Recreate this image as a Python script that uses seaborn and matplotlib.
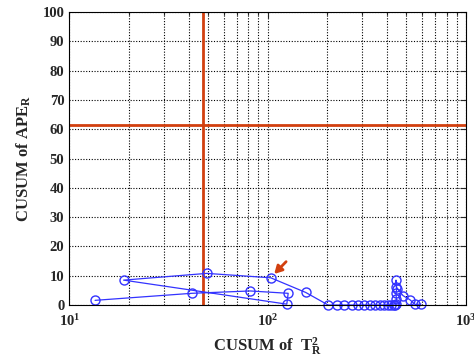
import numpy as np
import pandas as pd
import seaborn as sns
import matplotlib
matplotlib.use("Agg")
import matplotlib.pyplot as plt

# CUSUM trajectory, in time order
cusum_t2 = [13.5, 41.5, 81.7, 127, 125, 18.8, 49.4, 103.7, 155.6,
            202, 223, 244, 266, 287, 307, 328, 348, 369, 386, 403, 419, 432, 440,
            444, 446, 444, 448, 444, 446, 482, 522, 554, 593]
cusum_ape = [1.6, 4.0, 4.8, 4.0, 0.3, 8.5, 10.8, 9.3, 4.3,
             0, 0, 0, 0, 0, 0, 0, 0, 0, 0, 0, 0, 0, 0,
             0.2, 2.0, 4.0, 5.5, 8.5, 6.0, 3.2, 1.8, 0.2, 0.3]
limit_t2 = 47.5
limit_ape = 61.5

df = pd.DataFrame({"t2": cusum_t2, "ape": cusum_ape})

sns.set_style("white")
plt.rcParams["font.family"] = ["Liberation Serif", "DejaVu Serif"]
plt.rcParams["font.weight"] = "bold"
plt.rcParams["mathtext.fontset"] = "custom"
plt.rcParams["mathtext.rm"] = "Liberation Serif:bold"
plt.rcParams["mathtext.it"] = "Liberation Serif:bold"
plt.rcParams["mathtext.bf"] = "Liberation Serif:bold"
plt.rcParams["mathtext.default"] = "bf"

fig = plt.figure(figsize=(4.74, 3.64), dpi=100)
ax = fig.add_axes([0.146, 0.162, 0.837, 0.805])

ax.set_xscale("log")
ax.set_xlim(10, 1000)
ax.set_ylim(0, 100)
ax.set_yticks(np.arange(0, 101, 10))

ax.grid(True, which="both", axis="x", color="black", linestyle=(0, (1, 1.5)), linewidth=0.8)
ax.grid(True, which="major", axis="y", color="black", linestyle=(0, (1, 1.5)), linewidth=0.8)

ax.axvline(limit_t2, color="#d2400f", linewidth=2)
ax.axhline(limit_ape, color="#d2400f", linewidth=2)

sns.lineplot(data=df, x="t2", y="ape", sort=False, estimator=None, ax=ax,
             color="#3333ff", linewidth=0.9, marker="o", markersize=6.5,
             markerfacecolor="none", markeredgecolor="#3333ff", markeredgewidth=1.0,
             clip_on=False)

ax.annotate("", xy=(108, 10.6), xytext=(124, 14.8),
            arrowprops=dict(arrowstyle="-|>,head_length=0.45,head_width=0.25",
                            color="#d2400f", linewidth=2, shrinkA=0, shrinkB=0))

ax.tick_params(which="both", direction="in", top=True, right=True,
               labelsize=10.5, width=0.8)
ax.tick_params(which="major", length=4)
ax.tick_params(which="minor", length=2)
ax.tick_params(axis="x", pad=6)
for lab in ax.get_yticklabels():
    lab.set_fontweight("bold")

for s in ax.spines.values():
    s.set_color("black")
    s.set_linewidth(0.8)

ax.set_xlabel(r"CUSUM of  T$_\mathrm{R}^2$", fontsize=12, fontweight="bold", labelpad=5)
ax.set_ylabel(r"CUSUM of APE$_\mathrm{R}$", fontsize=12, fontweight="bold", labelpad=7)

fig.savefig("out.png", dpi=100)
